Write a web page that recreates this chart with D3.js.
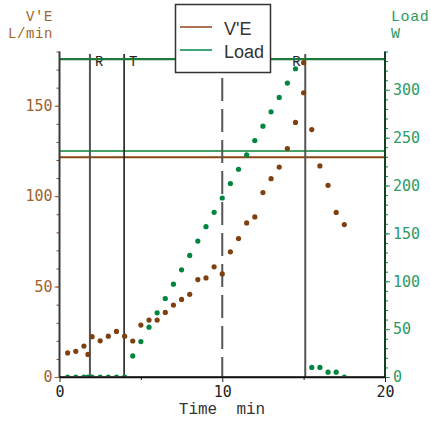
<!DOCTYPE html>
<html>
<head>
<meta charset="utf-8">
<script src="https://cdn.jsdelivr.net/npm/d3@7"></script>
<style>
  body { margin: 0; background: #fff; }
  svg { display: block; }
</style>
</head>
<body>
<svg id="chart" width="431" height="421"></svg>
<script>
// ---- data ----
const veTime = [0.5,1,1.5,1.75,2,2.5,3,3.5,4,4.5,5,5.5,6,6.5,7,7.5,8,8.5,9,9.5,10,10.5,11,11.5,12,12.5,13,13.5,14,14.5,15,15,15.5,16,16.5,17,17.5];
const veValues = [13.3,14.2,17.1,12.5,22.3,20,22.6,25.2,22.6,19.9,28.7,31.5,31.5,35.7,39.8,42.9,45.7,53.9,54.8,60.9,57,69.2,76.6,85.2,88.5,102,109.7,116.1,126.3,140.8,157.2,173.8,136.8,116.7,106,91,84.3];
const loadTime = [0.5,1,1.5,1.75,2,2.5,3,3.5,4,4.5,5,5.5,6,6.5,7,7.5,8,8.5,9,9.5,10,10.5,11,11.5,12,12.5,13,13.5,14,14.5,15.5,16,16.5,17,17.5];
const loadValues = [0,0,0,0,0,0,0,0,0,22,37,52,67,82,97,112,127,142,157,172,187,202,217,232,247,262,277,292,307,322,10,10,5,5,0];
const markerTimes = [1.87, 3.97, 10, 15.1];
const markerLabels = ["R", "T", "", "R"];
const veThreshold = 121.5;
const loadThreshold = 236;
const loadMax = 332;
const xTicks = [0, 10, 20];
const xMinorTicks = [5, 15];
const veTicks = [0, 50, 100, 150];
const veMinorTicks = d3.range(0, 181, 10);
const loadTicks = [0, 50, 100, 150, 200, 250, 300];
const loadMinorTicks = d3.range(0, 341, 10);
const seriesNames = ["V'E", "Load"];

// ---- styles ----
const BROWN = "#8B4513", BROWN_TXT = "#a0622d";
const GREEN = "#00884a", GREEN_TXT = "#2e9a62", DKGREEN = "#1d7a3a";
const monoTick = "'DejaVu Sans Mono', monospace";
const monoTitle = "'Liberation Mono', 'Courier New', monospace";

const svg = d3.select("#chart");
const x = d3.scaleLinear().domain([0, 20]).range([59.5, 385]);
const yL = d3.scaleLinear().domain([0, 180]).range([377, 51.5]);
const yR = d3.scaleLinear().domain([0, 340]).range([377, 51.5]);

svg.append("defs").append("clipPath").attr("id", "clip")
  .append("rect").attr("x", 59.5).attr("y", 40).attr("width", 326).attr("height", 336.3);

// horizontal lines
svg.append("line").attr("x1", x(0)).attr("x2", x(20))
  .attr("y1", yR(loadThreshold)).attr("y2", yR(loadThreshold))
  .attr("stroke", "#5fb27e").attr("stroke-width", 2);
svg.append("line").attr("x1", x(0)).attr("x2", x(20))
  .attr("y1", yR(loadThreshold)).attr("y2", yR(loadThreshold))
  .attr("stroke", "#1f8a48").attr("stroke-width", 0.8);
svg.append("line").attr("x1", x(0)).attr("x2", x(20))
  .attr("y1", yL(veThreshold)).attr("y2", yL(veThreshold))
  .attr("stroke", BROWN).attr("stroke-width", 2);

// vertical markers
markerTimes.forEach((t, i) => {
  const dashed = markerLabels[i] === "";
  svg.append("line")
    .attr("x1", x(t)).attr("x2", x(t))
    .attr("y1", dashed ? 78 : 54).attr("y2", 377)
    .attr("stroke", markerLabels[i] === "T" ? "#111" : "#555")
    .attr("stroke-width", markerLabels[i] === "T" ? 1.5 : 2)
    .attr("stroke-dasharray", dashed ? "23,8" : null);
});
svg.selectAll("text.mk").data(markerTimes.map((t, i) => ({t, l: markerLabels[i], i})).filter(d => d.l))
  .join("text").attr("class", "mk")
  .attr("x", d => d.i === 3 ? x(d.t) - 13 : x(d.t) + 5)
  .attr("y", 66)
  .attr("font-family", monoTitle).attr("font-size", 14).attr("fill", "#222")
  .text(d => d.l);

// top line
svg.append("line").attr("x1", x(0)).attr("x2", x(20))
  .attr("y1", yR(loadMax)).attr("y2", yR(loadMax))
  .attr("stroke", DKGREEN).attr("stroke-width", 2.2);

// axes
function styleAxis(g, lineColor, lineW, textColor, fontSize) {
  g.select(".domain").attr("stroke", lineColor).attr("stroke-width", lineW);
  g.selectAll(".tick line").attr("stroke", textColor);
  g.selectAll(".tick text").attr("fill", textColor)
    .attr("font-family", monoTick).attr("font-size", fontSize);
}
// left
const gL = svg.append("g").attr("transform", "translate(59.5,0)");
gL.call(d3.axisLeft(yL).tickValues(veMinorTicks).tickSize(3).tickFormat("").tickSizeOuter(0));
gL.select(".domain").remove();
gL.selectAll(".tick line").attr("stroke", BROWN);
const gL2 = svg.append("g").attr("transform", "translate(59.5,0)");
gL2.call(d3.axisLeft(yL).tickValues(veTicks).tickSize(5).tickPadding(2).tickSizeOuter(0));
styleAxis(gL2, "#3a3a3a", 2, BROWN_TXT, 15);
gL2.select(".domain").attr("d", `M0,${yL(180)}V${yL(0)}`);

// right
const gR = svg.append("g").attr("transform", "translate(385,0)");
gR.call(d3.axisRight(yR).tickValues(loadMinorTicks).tickSize(3).tickFormat("").tickSizeOuter(0));
gR.select(".domain").remove();
gR.selectAll(".tick line").attr("stroke", GREEN);
const gR2 = svg.append("g").attr("transform", "translate(385,0)");
gR2.call(d3.axisRight(yR).tickValues(loadTicks).tickSize(5).tickPadding(3).tickSizeOuter(0));
styleAxis(gR2, "#1a3d25", 2, GREEN_TXT, 15);
gR2.select(".domain").attr("d", `M0,${yR(340)}V${yR(0)}`);

// bottom
const gB = svg.append("g").attr("transform", "translate(0,377)");
gB.call(d3.axisBottom(x).tickValues(xMinorTicks).tickSize(3).tickFormat("").tickSizeOuter(0));
gB.select(".domain").remove();
gB.selectAll(".tick line").attr("stroke", "#222");
const gB2 = svg.append("g").attr("transform", "translate(0,377)");
gB2.call(d3.axisBottom(x).tickValues(xTicks).tickSize(5).tickPadding(4).tickSizeOuter(0));
styleAxis(gB2, "#111", 1.6, "#222", 15);

// points
const plot = svg.append("g").attr("clip-path", "url(#clip)");
plot.selectAll("circle.ve").data(veTime.map((t, i) => [t, veValues[i]]))
  .join("circle").attr("class", "ve")
  .attr("cx", d => x(d[0])).attr("cy", d => yL(d[1])).attr("r", 2.6)
  .attr("fill", "#7f3f0f");
plot.selectAll("circle.ld").data(loadTime.map((t, i) => [t, loadValues[i]]))
  .join("circle").attr("class", "ld")
  .attr("cx", d => x(d[0])).attr("cy", d => yR(d[1])).attr("r", 2.6)
  .attr("fill", "#00853f");
// redraw bottom axis line over the zero points
svg.append("line").attr("x1", x(0)).attr("x2", x(20)).attr("y1", 377).attr("y2", 377)
  .attr("stroke", "#111").attr("stroke-width", 1.6);

// axis titles
const ttl = (txt, xx, yy, anchor, color, size, ls) =>
  svg.append("text").attr("x", xx).attr("y", yy).attr("text-anchor", anchor)
    .attr("fill", color).attr("font-family", monoTitle).attr("font-size", size)
    .attr("letter-spacing", ls)
    .style("white-space", "pre").text(txt);
ttl("V'E", 53, 21, "end", BROWN_TXT, 14, 0.6);
ttl("L/min", 53, 38, "end", BROWN_TXT, 14, 0.6);
ttl("Load", 391, 21, "start", GREEN_TXT, 15, 0.6);
ttl("W", 391, 38, "start", GREEN_TXT, 15, 0.6);
ttl("Time  min", 222, 414, "middle", "#333", 16, 0);

// legend
const lg = svg.append("g");
lg.append("rect").attr("x", 175.5).attr("y", 4.5).attr("width", 95).attr("height", 68)
  .attr("fill", "#fff").attr("stroke", "#333").attr("stroke-width", 1.5);
const legendColors = [BROWN, GREEN];
seriesNames.forEach((name, i) => {
  const yy = 27 + i * 23;
  lg.append("line").attr("x1", 180).attr("x2", 212).attr("y1", yy).attr("y2", yy)
    .attr("stroke", legendColors[i]).attr("stroke-width", 1.5);
  lg.append("text").attr("x", 224).attr("y", yy + 7.5)
    .attr("font-family", "'Liberation Sans', Arial, sans-serif").attr("font-size", 18)
    .attr("fill", "#333").text(name);
});
</script>
</body>
</html>
